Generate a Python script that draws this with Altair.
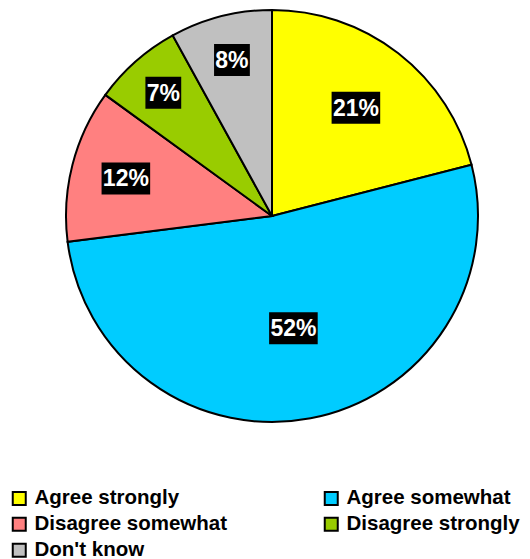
import altair as alt
import pandas as pd

categories = ["Agree strongly", "Agree somewhat", "Disagree somewhat", "Disagree strongly", "Don't know"]
values = [21, 52, 12, 7, 8]
colors = ["#FFFF00", "#00CCFF", "#FF8080", "#99CC00", "#C0C0C0"]

df = pd.DataFrame({"category": categories, "value": values, "idx": list(range(len(categories)))})

FONT = "Liberation Sans"
R = 206        # pie radius (px)
CX, CY = 272, 216

xs = alt.Scale(domain=[-CX, 530 - CX])
ys = alt.Scale(domain=[-(559 - CY), CY])

base = alt.Chart(df)

pie = base.mark_arc(outerRadius=R, stroke="black", strokeWidth=2).encode(
    theta=alt.Theta("value:Q", stack=True),
    order=alt.Order("idx:Q"),
    color=alt.Color(
        "category:N",
        scale=alt.Scale(domain=categories, range=colors),
        legend=alt.Legend(
            orient="none", legendX=9, legendY=488, columns=2, columnPadding=92,
            direction="horizontal",
            title=None, padding=0, symbolType="square", symbolSize=169,
            symbolStrokeColor="black", symbolStrokeWidth=2, symbolOpacity=1,
            labelFont=FONT, labelFontSize=20.5, labelFontWeight="bold",
            labelColor="black", labelOffset=5, rowPadding=4, labelLimit=400,
        ),
    ),
    x=alt.value(CX),
    y=alt.value(CY),
)

# label distance from centre: smaller slices get their label pushed further out
lab = base.transform_window(
    cum="sum(value)", sort=[alt.SortField("idx")], frame=[None, 0]
).transform_joinaggregate(total="sum(value)").transform_calculate(
    mid="2*PI*(datum.cum - datum.value/2)/datum.total",
    lr="213 - 25*log(datum.value)",
).transform_calculate(
    lx="datum.lr*sin(datum.mid)",
    ly="datum.lr*cos(datum.mid)",
    label="datum.value + '%'",
    hw="6.4*(length(datum.value + '%')-1)+11.5",
).transform_calculate(
    bx1="datum.lx - datum.hw",
    bx2="datum.lx + datum.hw",
    by1="datum.ly - 16",
    by2="datum.ly + 16",
)

boxes = lab.mark_rect(color="black").encode(
    x=alt.X("bx1:Q", scale=xs, axis=None),
    x2="bx2:Q",
    y=alt.Y("by1:Q", scale=ys, axis=None),
    y2="by2:Q",
)

texts = lab.mark_text(
    color="white", font=FONT, fontWeight="bold", fontSize=23,
    align="center", baseline="middle", dy=1,
).encode(
    x=alt.X("lx:Q", scale=xs, axis=None),
    y=alt.Y("ly:Q", scale=ys, axis=None),
    text="label:N",
)

chart = alt.layer(pie, boxes, texts).properties(
    width=530, height=559, autosize="none", padding=0
).configure_view(stroke=None)

chart.save("out.html", embed_options={"renderer": "svg", "actions": False})
